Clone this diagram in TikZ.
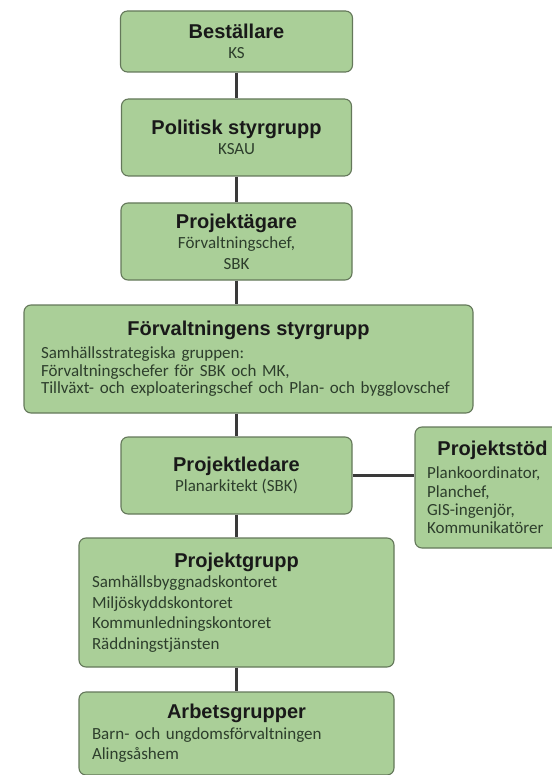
\documentclass[tikz,border=0pt]{standalone}
\usepackage{fontspec}
\setmainfont{Carlito}
\newfontfamily\rubrikfont{Liberation Sans}
\usepackage{tikz}
\usetikzlibrary{positioning}
\definecolor{boxgroen}{RGB}{170,207,152}
\definecolor{boxrand}{RGB}{100,120,90}
\definecolor{brodtext}{RGB}{45,62,44}
\definecolor{linjefarg}{RGB}{58,58,58}
\newcommand{\rubrik}[1]{{\rubrikfont\bfseries\fontsize{20}{24}\selectfont\color{black!90}#1}}
\newcommand{\titelrad}[1]{\makebox[\hsize]{\rubrik{#1}}}
\newcommand{\brod}[1]{\fontsize{17}{#1}\selectfont}

\begin{document}
\begin{tikzpicture}[
  x=1pt, y=-1pt,
  kasse/.style={rectangle, draw=boxrand, fill=boxgroen, rounded corners=7pt, line width=1.1pt, text=brodtext, font=\brod{20.5}, inner ysep=0pt},
  rubrikkasse/.style={kasse, align=center},
  listkasse/.style={kasse, align=left},
  linje/.style={draw=linjefarg, line width=3pt}
]
\useasboundingbox (0,0) rectangle (551,775);

% Chain of command
\node[rubrikkasse, minimum width=232pt, minimum height=61pt] (bestallare) at (236.5,41.5) {\rubrik{Beställare}\\KS};
\node[rubrikkasse, minimum width=230pt, minimum height=77pt] (politisk) at (236.5,137.5) {\rubrik{Politisk styrgrupp}\\KSAU};
\node[rubrikkasse, minimum width=231pt, minimum height=77pt] (agare) at (236.5,241.5) {\rubrik{Projektägare}\\Förvaltningschef,\\SBK};

% Wide steering group box
\node[listkasse, text width=415pt, inner xsep=17pt, minimum height=108pt, font=\brod{17.8}] (styrgrupp) at (248.5,359) {\titelrad{Förvaltningens styrgrupp}\\[5pt]
  Samhällsstrategiska gruppen:\\
  Förvaltningschefer för SBK och MK,\\
  Tillväxt- och exploateringschef och Plan- och bygglovschef};

% Project leader and support
\node[rubrikkasse, minimum width=231pt, minimum height=77pt] (projektledare) at (236.5,475.5) {\rubrik{Projektledare}\\Planarkitekt (SBK)};
\node[listkasse, text width=131pt, inner xsep=12pt, minimum height=121pt, font=\brod{18.3}] (projektstod) at (492.5,487.5) {\titelrad{Projektstöd}\\[4.7pt]
  Plankoordinator,\\
  Planchef,\\
  GIS-ingenjör,\\
  Kommunikatörer};

% Groups at the bottom
\node[listkasse, text width=289pt, inner xsep=13pt, minimum height=129pt] (projektgrupp) at (236.5,602.5) {\titelrad{Projektgrupp}\\
  Samhällsbyggnadskontoret\\
  Miljöskyddskontoret\\
  Kommunledningskontoret\\
  Räddningstjänsten};
\node[listkasse, text width=289pt, inner xsep=13pt, minimum height=83pt] (arbetsgrupper) at (236.5,733.5) {\titelrad{Arbetsgrupper}\\
  Barn- och ungdomsförvaltningen\\
  Alingsåshem};

% Connectors
\draw[linje] (bestallare) -- (politisk);
\draw[linje] (politisk) -- (agare);
\draw[linje] (agare.south) -- (agare.south |- styrgrupp.north);
\draw[linje] (projektledare.north |- styrgrupp.south) -- (projektledare.north);
\draw[linje] (projektledare.east) -- (projektledare.east -| projektstod.west);
\draw[linje] (projektledare) -- (projektgrupp);
\draw[linje] (projektgrupp) -- (arbetsgrupper);

\end{tikzpicture}
\end{document}
